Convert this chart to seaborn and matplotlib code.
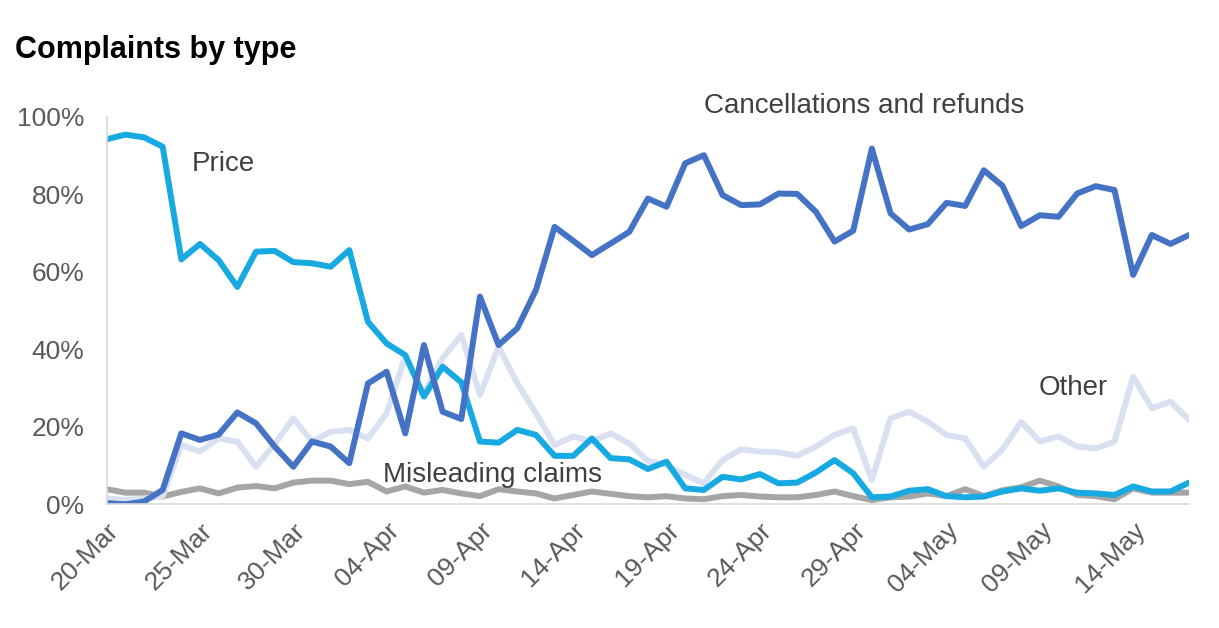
import numpy as np
import pandas as pd
import matplotlib
matplotlib.use("Agg")
import matplotlib.pyplot as plt
import matplotlib.dates as mdates
import seaborn as sns

dates = pd.date_range("2020-03-20", "2020-05-17", freq="D")

price = [94.2, 95.4, 94.7, 92.3, 63.2, 67.2, 63.0, 56.1, 65.2, 65.4,
         62.5, 62.2, 61.3, 65.6, 47.1, 41.5, 38.5, 27.8, 35.5, 31.5,
         16.2, 15.9, 19.2, 17.9, 12.5, 12.5, 17.0, 11.9, 11.6, 9.1,
         11.0, 4.1, 3.7, 7.1, 6.4, 7.8, 5.4, 5.6, 8.2, 11.4,
         8.0, 1.8, 2.0, 3.5, 3.9, 2.1, 1.8, 2.0, 3.3, 4.1,
         3.5, 4.1, 3.0, 2.8, 2.4, 4.6, 3.3, 3.3, 5.6]
cancellations = [0.3, 0.0, 0.7, 3.7, 18.3, 16.6, 18.0, 23.7, 20.9, 14.9,
                 9.7, 16.2, 14.9, 10.6, 31.2, 34.2, 18.3, 41.1, 23.9, 22.0,
                 53.6, 41.1, 45.4, 55.3, 71.6, 68.0, 64.3, 67.3, 70.3, 78.9,
                 76.8, 88.0, 90.1, 79.8, 77.2, 77.4, 80.2, 80.1, 75.5, 67.8,
                 70.6, 91.8, 75.1, 70.9, 72.3, 77.8, 77.0, 86.2, 82.2, 71.8,
                 74.6, 74.2, 80.2, 82.1, 81.1, 59.2, 69.5, 67.2, 69.5]
other = [1.5, 1.1, 1.5, 2.1, 15.3, 13.6, 17.0, 16.2, 9.7, 15.5,
         22.2, 16.2, 18.7, 19.2, 17.0, 23.5, 38.1, 28.6, 37.7, 43.7,
         28.2, 40.7, 31.2, 23.5, 15.3, 17.5, 16.2, 18.3, 15.7, 11.2,
         10.1, 7.6, 5.4, 11.4, 14.2, 13.6, 13.4, 12.5, 14.9, 17.9,
         19.6, 6.3, 22.2, 23.9, 21.3, 17.9, 17.0, 9.7, 14.2, 21.3,
         16.2, 17.5, 14.9, 14.4, 16.2, 32.9, 24.8, 26.5, 21.8]
misleading = [3.9, 3.0, 3.0, 2.0, 3.2, 4.1, 2.8, 4.3, 4.7, 4.1,
              5.6, 6.1, 6.1, 5.2, 5.8, 3.3, 4.6, 3.0, 3.7, 2.8,
              2.1, 3.9, 3.3, 2.8, 1.5, 2.4, 3.3, 2.7, 2.1, 1.8,
              2.1, 1.5, 1.3, 2.1, 2.4, 2.0, 1.8, 1.8, 2.4, 3.3,
              2.1, 1.1, 1.8, 2.0, 2.8, 2.1, 3.9, 2.1, 3.6, 4.4,
              6.1, 4.6, 2.4, 2.1, 1.3, 4.1, 3.0, 3.0, 3.0]

series_names = ["Misleading claims", "Other", "Price", "Cancellations and refunds"]
series_values = [misleading, other, price, cancellations]
colors = {"Price": "#16a9e2", "Cancellations and refunds": "#4472c4",
          "Other": "#d9e0f1", "Misleading claims": "#a5a5a5"}

df = pd.concat([pd.DataFrame({"date": dates, "share": np.array(v) / 100.0, "type": n})
                for n, v in zip(series_names, series_values)], ignore_index=True)

sns.set_theme(style="white")
plt.rcParams["font.family"] = ["Liberation Sans", "DejaVu Sans"]

fig = plt.figure(figsize=(12.19, 6.28), dpi=100)
ax = fig.add_axes([0.0875, 0.197, 0.888, 0.617])

sns.lineplot(data=df, x="date", y="share", hue="type", hue_order=series_names,
             palette=colors, linewidth=4.3, ax=ax, legend=False)

ax.set_ylim(0, 1)
ax.set_xlim(dates[0], dates[-1])
ax.set_yticks(np.linspace(0, 1, 6))
ax.set_yticklabels([f"{int(v)}%" for v in np.linspace(0, 100, 6)])
ax.set_xticks(dates[::5])
ax.xaxis.set_major_formatter(mdates.DateFormatter("%d-%b"))
ax.set_xlabel("")
ax.set_ylabel("")

for s in ["top", "right"]:
    ax.spines[s].set_visible(False)
for s in ["left", "bottom"]:
    ax.spines[s].set_color("#d9d9d9")
    ax.spines[s].set_linewidth(1.2)
ax.tick_params(axis="both", colors="#d9d9d9", length=6, width=1.2, direction="out",
               labelcolor="#595959", labelsize=19)
ax.tick_params(axis="y", pad=10)
ax.tick_params(axis="x", pad=4)
for lab in ax.get_xticklabels():
    lab.set_rotation(45)
    lab.set_ha("right")
    lab.set_rotation_mode("anchor")

label_color = "#404040"
fs = 20
ax.text(dates[4] + pd.Timedelta(hours=14), 0.878, "Price", fontsize=fs, color=label_color, va="center")
ax.text(dates[32], 1.028, "Cancellations and refunds", fontsize=fs, color=label_color,
        va="center", clip_on=False)
ax.text(dates[49] + pd.Timedelta(hours=22), 0.30, "Other", fontsize=fs, color=label_color, va="center")
ax.text(dates[14] + pd.Timedelta(hours=19), 0.076, "Misleading claims", fontsize=fs,
        color=label_color, va="center")

fig.text(15 / 1219, 1 - 50 / 628, "Complaints by type", fontsize=22, fontweight="bold",
         color="#000000", va="center", ha="left")

fig.savefig("out.png", dpi=100)
